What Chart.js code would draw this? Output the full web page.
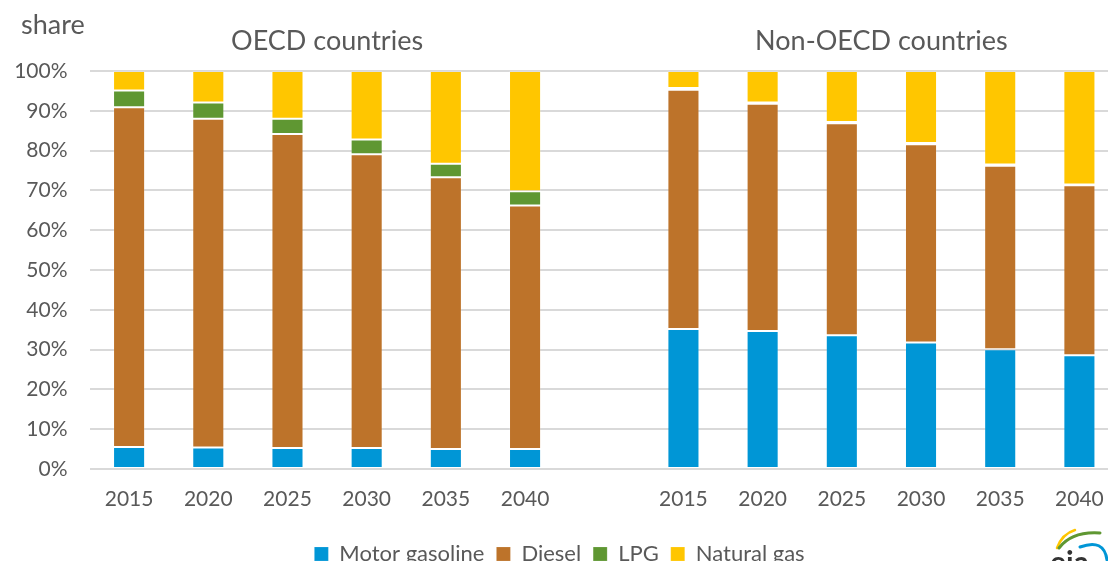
<!DOCTYPE html>
<html lang="en">
<head>
    <meta charset="UTF-8">
    <title>Transport fuel shares</title>
    <script src="https://cdn.jsdelivr.net/npm/chart.js"></script>
    <style>
        html, body { margin: 0; padding: 0; background: #fff; overflow: hidden; }
        .chart-container { width: 1108px; height: 561px; overflow: hidden; position: relative; }
        canvas { display: block; }
    </style>
</head>
<body>
    <div class="chart-container">
        <canvas id="shareChart" width="1119" height="575"></canvas>
    </div>

    <script>
        // categories: six years per group, an empty slot between the groups
        const years = ['2015', '2020', '2025', '2030', '2035', '2040'];
        const groupTitles = ['OECD countries', 'Non-OECD countries'];
        const yTicks = [0, 10, 20, 30, 40, 50, 60, 70, 80, 90, 100];

        // shares in percent
        const oecdGasoline = [5.5, 5.4, 5.3, 5.3, 5.0, 5.0];
        const oecdDiesel = [85.4, 82.6, 78.9, 73.8, 68.3, 61.2];
        const oecdLpg = [4.2, 4.1, 3.8, 3.7, 3.4, 3.6];
        const oecdNatGas = [4.9, 7.9, 12.0, 17.2, 23.3, 30.2];

        const nonOecdGasoline = [35.2, 34.7, 33.6, 31.8, 30.1, 28.6];
        const nonOecdDiesel = [60.1, 57.1, 53.3, 49.8, 46.1, 42.7];
        const nonOecdLpg = [0.4, 0.3, 0.3, 0.3, 0.3, 0.2];
        const nonOecdNatGas = [4.3, 7.9, 12.8, 18.1, 23.5, 28.5];

        const labels = years.concat([''], years);
        const join = (a, b) => a.concat([null], b);

        const textColor = '#595959';
        const fontFamily = 'Lato, "DejaVu Sans", sans-serif';

        // group titles, the "share" label and the cropped logo
        const titlesPlugin = {
            id: 'groupTitles',
            afterDraw(chart) {
                const ctx = chart.ctx;
                const x = chart.scales.x;
                ctx.save();
                ctx.fillStyle = textColor;
                ctx.font = '27px ' + fontFamily;
                ctx.textBaseline = 'middle';
                ctx.textAlign = 'center';
                ctx.fillText(groupTitles[0], x.getPixelForValue(2.5), 41);
                ctx.fillText(groupTitles[1], x.getPixelForValue(9.5), 41);
                ctx.textAlign = 'left';
                ctx.fillText('share', 21, 25);

                // eia logo, mostly cut off at the bottom right
                ctx.lineCap = 'round';
                ctx.lineWidth = 2.5;
                ctx.strokeStyle = '#ffc600';
                ctx.beginPath();
                ctx.moveTo(1057, 548);
                ctx.quadraticCurveTo(1062, 534, 1075, 530);
                ctx.stroke();
                ctx.strokeStyle = '#5f9732';
                ctx.lineWidth = 3;
                ctx.beginPath();
                ctx.moveTo(1059, 548);
                ctx.quadraticCurveTo(1072, 531, 1100, 533);
                ctx.stroke();
                ctx.strokeStyle = '#0096d6';
                ctx.beginPath();
                ctx.moveTo(1080, 547);
                ctx.quadraticCurveTo(1104, 538, 1107, 560);
                ctx.stroke();
                ctx.fillStyle = '#333';
                ctx.font = 'bold 30px ' + fontFamily;
                ctx.textAlign = 'left';
                ctx.textBaseline = 'alphabetic';
                ctx.fillText('eia', 1050, 573);
                ctx.restore();
            }
        };

        const ctx = document.getElementById('shareChart').getContext('2d');
        new Chart(ctx, {
            type: 'bar',
            data: {
                labels: labels,
                datasets: [
                    { label: 'Motor gasoline', data: join(oecdGasoline, nonOecdGasoline), backgroundColor: '#0096d6' },
                    { label: 'Diesel', data: join(oecdDiesel, nonOecdDiesel), backgroundColor: '#bd732a' },
                    { label: 'LPG', data: join(oecdLpg, nonOecdLpg), backgroundColor: '#5f9732' },
                    { label: 'Natural gas', data: join(oecdNatGas, nonOecdNatGas), backgroundColor: '#ffc600' }
                ]
            },
            options: {
                responsive: false,
                animation: false,
                datasets: {
                    bar: {
                        barPercentage: 0.405,
                        categoryPercentage: 1,
                        borderWidth: 1,
                        borderColor: 'rgba(255,255,255,0.15)',
                        borderSkipped: false
                    }
                },
                layout: { padding: { top: 71, left: 0, right: 0, bottom: 0 } },
                scales: {
                    x: {
                        stacked: true,
                        grid: { display: false },
                        border: { display: false },
                        ticks: { color: textColor, font: { family: fontFamily, size: 21 }, padding: 10, maxRotation: 0 },
                        afterFit: s => { s.height = 62; }
                    },
                    y: {
                        stacked: true,
                        min: 0,
                        max: 100,
                        afterBuildTicks: s => { s.ticks = yTicks.map(v => ({ value: v })); },
                        grid: { color: '#d9d9d9', lineWidth: 2, drawTicks: false },
                        border: { display: false },
                        ticks: { color: textColor, font: { family: fontFamily, size: 21 }, padding: 22, callback: v => v + '%' },
                        afterFit: s => { s.width = 89.5; }
                    }
                },
                plugins: {
                    tooltip: { enabled: false },
                    legend: {
                        position: 'bottom',
                        labels: {
                            color: textColor,
                            font: { family: fontFamily, size: 22 },
                            boxWidth: 14,
                            boxHeight: 14,
                            padding: 12
                        }
                    }
                }
            },
            plugins: [titlesPlugin]
        });
    </script>
</body>
</html>
